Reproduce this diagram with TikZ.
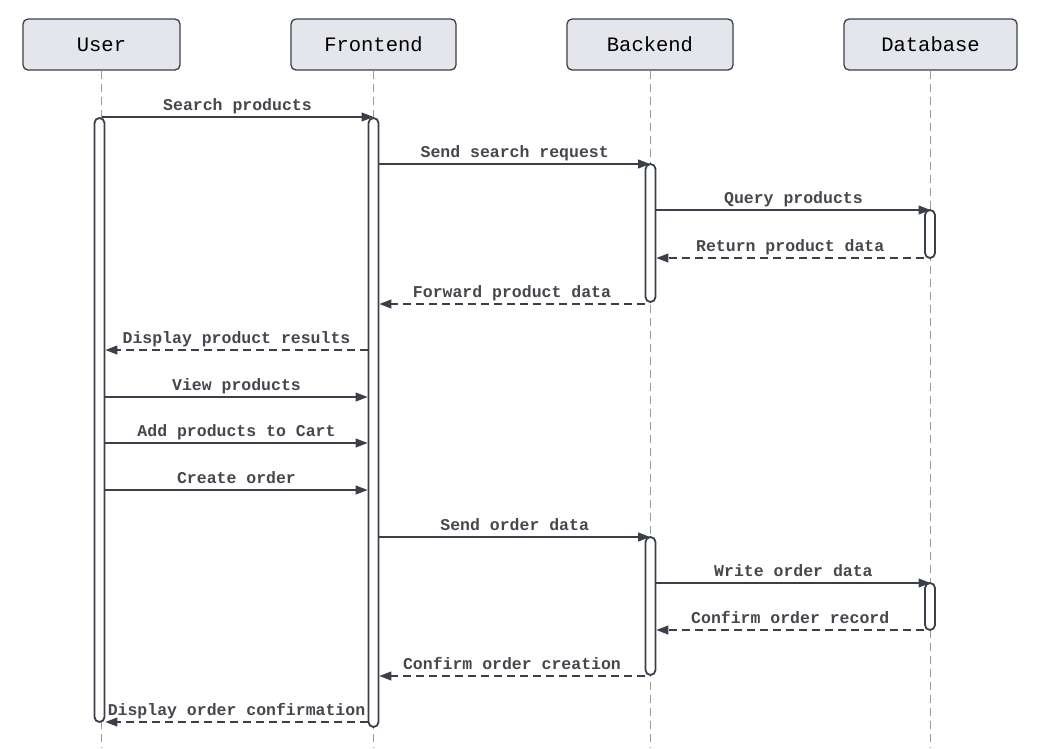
\documentclass[tikz,border=0pt]{standalone}
\usepackage{fontspec}
\setmonofont{Liberation Mono}
\usetikzlibrary{arrows.meta}

\definecolor{edge}{HTML}{3B3F4A}
\definecolor{boxfill}{HTML}{E4E6EB}
\definecolor{lifegray}{HTML}{9A9A9A}
\definecolor{txt}{HTML}{45474D}

\begin{document}
\begin{tikzpicture}[x=1pt, y=-1pt,
    actor/.style={draw=edge, line width=1.3pt, fill=boxfill, rounded corners=5pt,
      minimum height=51pt, text=black, font=\fontsize{20.5}{24}\selectfont\ttfamily},
    life/.style={lifegray, line width=1pt, dash pattern=on 8pt off 5pt},
    bar/.style={draw=edge, line width=1.8pt, fill=white, rounded corners=5pt,
      minimum width=10pt, inner sep=0pt},
    msg/.style={edge, line width=1.1pt, -{Triangle[length=12pt,width=9pt]}},
    reply/.style={msg, dash pattern=on 8pt off 5pt},
    lbl/.style={midway, anchor=base, yshift=7pt, inner sep=0pt, text=txt,
      font=\fontsize{16.5}{18}\selectfont\ttfamily\bfseries}]
  \useasboundingbox (0,0) rectangle (1047,748);

  % Draw the participant boxes
  \node[actor, minimum width=157pt] (user) at (101.5,44.5) {User};
  \node[actor, minimum width=165pt] (front) at (373.5,44.5) {Frontend};
  \node[actor, minimum width=166pt] (back) at (650,44.5) {Backend};
  \node[actor, minimum width=173pt] (db) at (930.5,44.5) {Database};

  % Draw the lifelines
  \coordinate (userend) at (101.5,748);
  \coordinate (frontend) at (373.5,748);
  \coordinate (backend) at (650,748);
  \coordinate (dbend) at (930.5,748);
  \draw[life] (user) -- (userend);
  \draw[life] (front) -- (frontend);
  \draw[life] (back) -- (backend);
  \draw[life] (db) -- (dbend);

  % Draw the activation bars
  \node[bar, minimum height=604pt] (userbar) at (99.5,420) {};
  \node[bar, minimum height=609pt] (frontbar) at (373.5,422.5) {};
  \node[bar, minimum height=138pt] (backbar) at (650.5,233) {};
  \node[bar, minimum height=138pt] (backbarb) at (650.5,606) {};
  \node[bar, minimum height=48pt] (dbbar) at (930,234) {};
  \node[bar, minimum height=47pt] (dbbarb) at (930,606.5) {};

  % Search part
  \draw[msg] (user |- 0,117) -- (front |- 0,117) node[lbl] {Search products};
  \draw[msg] (frontbar.east |- 0,164) -- (back |- 0,164) node[lbl] {Send search request};
  \draw[msg] (backbar.east |- 0,210) -- (db |- 0,210) node[lbl] {Query products};
  \draw[reply] (dbbar.west |- 0,258) -- (backbar.east |- 0,258) node[lbl] {Return product data};
  \draw[reply] (backbar.west |- 0,304) -- (frontbar.east |- 0,304) node[lbl] {Forward product data};
  \draw[reply] (frontbar.west |- 0,350) -- (userbar.east |- 0,350) node[lbl] {Display product results};

  % Cart and order part
  \draw[msg] (userbar.east |- 0,397) -- (frontbar.west |- 0,397) node[lbl] {View products};
  \draw[msg] (userbar.east |- 0,443) -- (frontbar.west |- 0,443) node[lbl] {Add products to Cart};
  \draw[msg] (userbar.east |- 0,490) -- (frontbar.west |- 0,490) node[lbl] {Create order};
  \draw[msg] (frontbar.east |- 0,537) -- (back |- 0,537) node[lbl] {Send order data};
  \draw[msg] (backbarb.east |- 0,583) -- (db |- 0,583) node[lbl] {Write order data};
  \draw[reply] (dbbarb.west |- 0,630) -- (backbarb.east |- 0,630) node[lbl] {Confirm order record};
  \draw[reply] (backbarb.west |- 0,676) -- (frontbar.east |- 0,676) node[lbl] {Confirm order creation};
  \draw[reply] (frontbar.west |- 0,722) -- (userbar.east |- 0,722) node[lbl] {Display order confirmation};
\end{tikzpicture}
\end{document}
